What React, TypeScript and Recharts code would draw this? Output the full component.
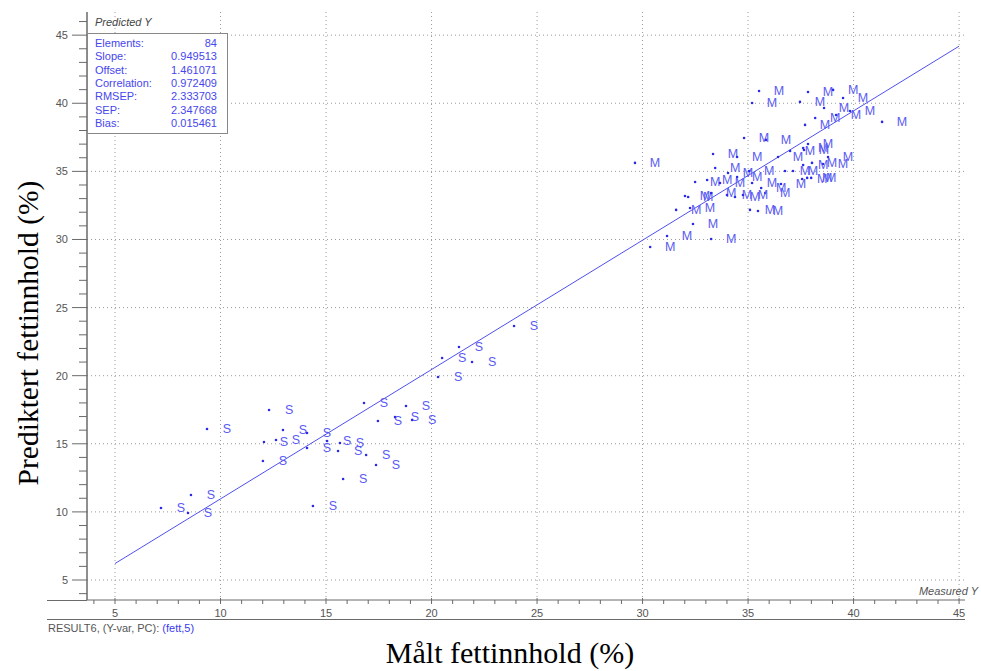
import React from 'react';
import { ScatterChart, Scatter, XAxis, YAxis, CartesianGrid, ReferenceLine } from 'recharts';

// Samples labelled "S"
const sMeasured = [7.18, 8.6, 8.46, 9.36, 12.3, 12.06, 12.63, 12.96, 12.01, 14.1, 14.1, 15.05, 15.66, 15.57, 16.9, 17.37, 15.81, 14.38, 16.8, 17.46, 18.27, 19.08, 18.79, 21.3, 20.5, 21.92, 20.31, 23.91];
const sPredicted = [10.29, 11.24, 9.92, 16.09, 17.48, 15.13, 15.28, 16.01, 13.74, 15.79, 14.69, 15.21, 15.06, 14.47, 14.18, 13.44, 12.42, 10.43, 18.0, 16.67, 16.97, 16.75, 17.78, 22.11, 21.3, 21.01, 19.9, 23.65];

// Samples labelled "M"
const mMeasured = [35.52, 35.19, 37.84, 37.46, 39.03, 39.5, 39.83, 39.17, 38.6, 38.18, 37.7, 41.35, 34.81, 35.85, 29.64, 33.34, 34.48, 36.42, 36.99, 37.61, 37.84, 38.79, 38.55, 38.03, 37.61, 37.13, 36.75, 37.8, 37.56, 37.99, 33.44, 34.05, 34.48, 35.05, 32.49, 33.06, 33.67, 35.19, 35.62, 35.81, 36.56, 32.01, 32.16, 33.25, 34.0, 34.38, 34.76, 31.59, 32.25, 35.09, 35.47, 32.39, 31.16, 30.36, 33.25, 37.65];
const mPredicted = [40.9, 40.02, 40.83, 40.1, 40.98, 40.39, 39.43, 39.14, 39.65, 38.92, 38.41, 38.63, 37.45, 37.31, 35.62, 36.28, 36.06, 36.06, 36.5, 36.72, 37.01, 36.06, 35.54, 35.62, 35.47, 35.03, 35.03, 34.52, 34.44, 34.52, 35.25, 34.88, 34.59, 35.03, 34.22, 34.37, 34.15, 34.15, 33.78, 33.41, 34.07, 33.19, 33.12, 33.41, 33.27, 33.12, 33.27, 32.17, 32.31, 32.17, 32.09, 31.14, 30.26, 29.45, 30.04, 36.57];

// Statistics box
const statLabels = ['Elements:', 'Slope:', 'Offset:', 'Correlation:', 'RMSEP:', 'SEP:', 'Bias:'];
const statValues = ['84', '0.949513', '1.461071', '0.972409', '2.333703', '2.347668', '0.015461'];
const slope = 0.949513;
const offset = 1.461071;

// Axes
const majorTicks = [5, 10, 15, 20, 25, 30, 35, 40, 45];
const xMinorTicks = [4, 5, 6, 7, 8, 9, 10, 11, 12, 13, 14, 15, 16, 17, 18, 19, 20, 21, 22, 23, 24, 25, 26, 27, 28, 29, 30, 31, 32, 33, 34, 35, 36, 37, 38, 39, 40, 41, 42, 43, 44, 45];
const yMinorTicks = [4, 5, 6, 7, 8, 9, 10, 11, 12, 13, 14, 15, 16, 17, 18, 19, 20, 21, 22, 23, 24, 25, 26, 27, 28, 29, 30, 31, 32, 33, 34, 35, 36, 37, 38, 39, 40, 41, 42, 43, 44, 45, 46];
const xDomain: [number, number] = [3.673, 45.28];
const yDomain: [number, number] = [3.532, 46.7];

const sData = sMeasured.map((x, i) => ({ x, y: sPredicted[i] }));
const mData = mMeasured.map((x, i) => ({ x, y: mPredicted[i] }));

const SANS = 'Arial, "Liberation Sans", sans-serif';
const SERIF = '"Times New Roman", "Liberation Serif", serif';
const AXIS = '#6a6a6a';
const LABEL = '#555555';

const makeShape = (label: string) => (props: any) => {
  const { cx, cy } = props;
  return (
    <g>
      <circle cx={cx} cy={cy} r={1.3} fill="#2a2ae8" />
      <text x={cx + 20} y={cy} textAnchor="middle" dominantBaseline="central" fontSize={12.5} fill="#5a5af2" fontFamily={SANS}>
        {label}
      </text>
    </g>
  );
};

const XTick = (props: any) => {
  const { x, y, payload } = props;
  const major = majorTicks.includes(payload.value);
  return (
    <g>
      <line x1={x} y1={major ? y - 2 : y} x2={x} y2={y + 4} stroke={AXIS} />
      {major && (
        <text x={x} y={y + 13} textAnchor="middle" dominantBaseline="central" fontSize={11} fill={LABEL} fontFamily={SANS}>
          {payload.value}
        </text>
      )}
    </g>
  );
};

const YTick = (props: any) => {
  const { x, y, payload } = props;
  const major = majorTicks.includes(payload.value);
  return (
    <g>
      <line x1={major ? x - 15 : x - 8} y1={y} x2={x} y2={y} stroke={AXIS} />
      {major && (
        <text x={x - 19} y={y} textAnchor="end" dominantBaseline="central" fontSize={11} fill={LABEL} fontFamily={SANS}>
          {payload.value}
        </text>
      )}
    </g>
  );
};

export default function App() {
  return (
    <div style={{ position: 'absolute', left: 0, top: 0, width: 981, height: 671, background: '#fff' }}>
      <ScatterChart width={981} height={671} margin={{ top: 12, right: 16, bottom: 51, left: 47 }}>
        <CartesianGrid
          stroke="#9a9a9a"
          strokeDasharray="1 3"
          horizontalValues={majorTicks}
          verticalValues={majorTicks}
        />
        <XAxis
          type="number"
          dataKey="x"
          domain={xDomain}
          allowDataOverflow
          ticks={xMinorTicks}
          interval={0}
          tickLine={false}
          tickSize={0}
          tickMargin={0}
          height={20}
          axisLine={{ stroke: AXIS }}
          tick={(p: any) => <XTick {...p} />}
        />
        <YAxis
          type="number"
          dataKey="y"
          domain={yDomain}
          allowDataOverflow
          ticks={yMinorTicks}
          interval={0}
          tickLine={false}
          tickSize={0}
          tickMargin={0}
          width={40}
          axisLine={{ stroke: AXIS, strokeWidth: 1.5 }}
          tick={(p: any) => <YTick {...p} />}
        />
        <ReferenceLine
          segment={[
            { x: 5, y: offset + slope * 5 },
            { x: 45, y: offset + slope * 45 },
          ]}
          stroke="#4f4ff0"
          strokeWidth={1}
        />
        <Scatter data={sData} isAnimationActive={false} shape={makeShape('S')} />
        <Scatter data={mData} isAnimationActive={false} shape={makeShape('M')} />
      </ScatterChart>
      <svg width={981} height={671} style={{ position: 'absolute', left: 0, top: 0, pointerEvents: 'none' }}>
        <line x1={47} y1={600.5} x2={87} y2={600.5} stroke={AXIS} />
        <line x1={47} y1={619.5} x2={965} y2={619.5} stroke={AXIS} />
        <text x={48} y={628} dominantBaseline="central" fontSize={11} fontFamily={SANS} fill={LABEL}>
          RESULT6, (Y-var, PC): <tspan fill="#3a3af0">(fett,5)</tspan>
        </text>
        <text x={978} y={591} textAnchor="end" dominantBaseline="central" fontSize={11} fontStyle="italic" fontFamily={SANS} fill={LABEL}>
          Measured Y
        </text>
        <text x={95} y={22} dominantBaseline="central" fontSize={11} fontStyle="italic" fontFamily={SANS} fill="#444">
          Predicted Y
        </text>
        <rect x={87.5} y={33.5} width={140} height={100} fill="#fff" stroke="#888" />
        {statLabels.map((l, i) => (
          <g key={l}>
            <text x={95} y={43 + i * 13.3} dominantBaseline="central" fontSize={11} fontFamily={SANS} fill="#4646ee">
              {l}
            </text>
            <text x={217} y={43 + i * 13.3} textAnchor="end" dominantBaseline="central" fontSize={11} fontFamily={SANS} fill="#4646ee">
              {statValues[i]}
            </text>
          </g>
        ))}
        <text
          x={28}
          y={333}
          transform="rotate(-90 28 333)"
          textAnchor="middle"
          dominantBaseline="central"
          fontSize={29.5}
          fontFamily={SERIF}
          fill="#000"
        >
          Prediktert fettinnhold (%)
        </text>
        <text x={510} y={652} textAnchor="middle" dominantBaseline="central" fontSize={30} fontFamily={SERIF} fill="#000">
          Målt fettinnhold (%)
        </text>
      </svg>
    </div>
  );
}
